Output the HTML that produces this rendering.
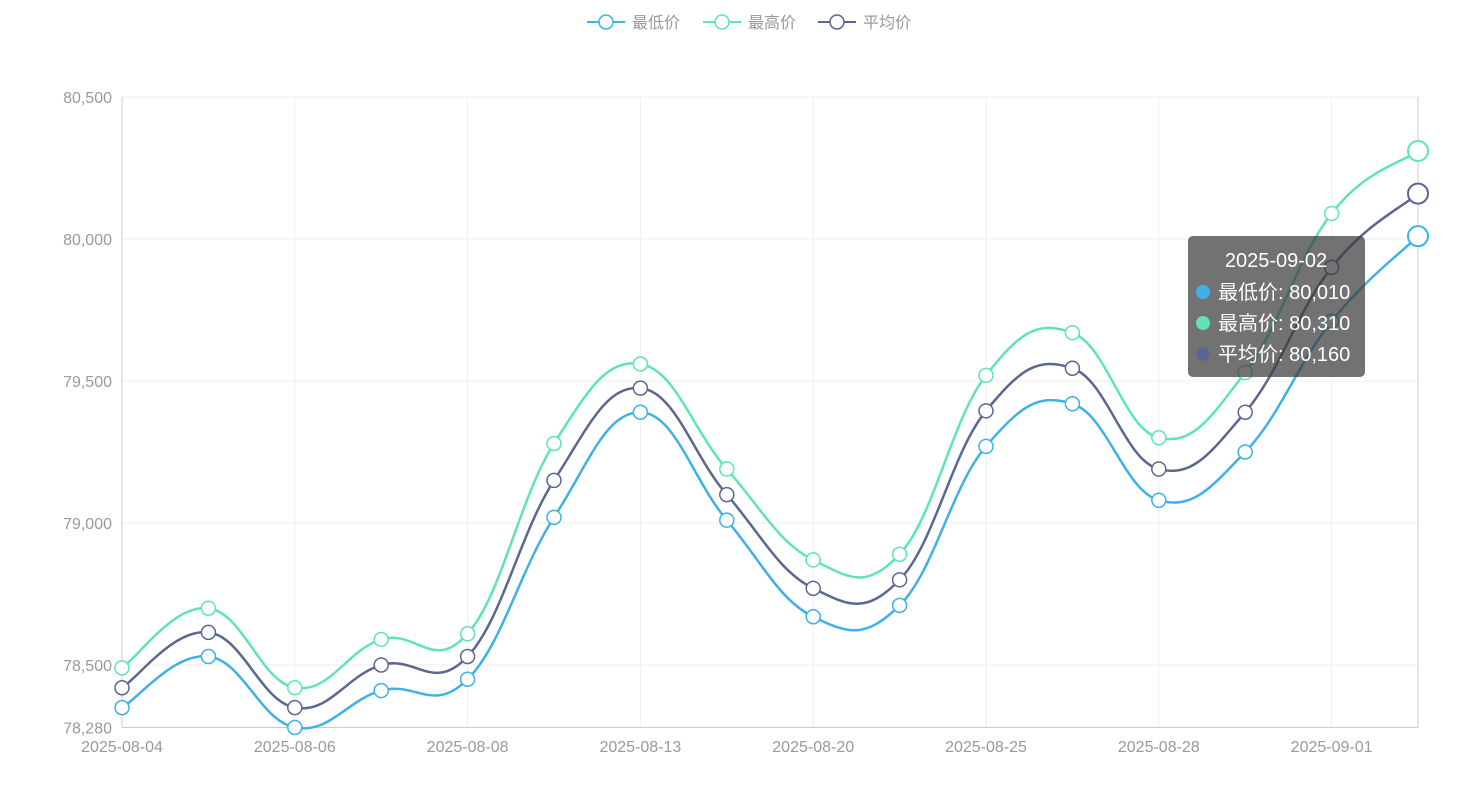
<!DOCTYPE html>
<html><head><meta charset="utf-8"><style>
body{margin:0;background:#fff;}
svg text{font-family:"Liberation Sans","Noto Sans CJK SC",sans-serif;}
</style></head><body>
<svg id="chart" width="1476" height="798" xmlns="http://www.w3.org/2000/svg">
<g id="grid"></g>
<g id="series"></g>
<g id="legend"></g>
<g id="tooltip" transform="translate(1188,236)">
<rect width="177" height="141" rx="5" fill="rgba(60,60,60,0.72)"/>
<text x="88" y="31" text-anchor="middle" fill="#fff" font-size="20">2025-09-02</text>
<circle cx="15" cy="56" r="7" fill="#3eb1e6"/><text x="30" y="63" fill="#fff" font-size="20">最低价: 80,010</text>
<circle cx="15" cy="87" r="7" fill="#5fe3b8"/><text x="30" y="94" fill="#fff" font-size="20">最高价: 80,310</text>
<circle cx="15" cy="118" r="7" fill="#5b6793"/><text x="30" y="125" fill="#fff" font-size="20">平均价: 80,160</text>
</g>
</svg>
<script>
const categories=["2025-08-04","2025-08-05","2025-08-06","2025-08-07","2025-08-08","2025-08-11","2025-08-13","2025-08-15","2025-08-20","2025-08-22","2025-08-25","2025-08-26","2025-08-28","2025-08-29","2025-09-01","2025-09-02"];
const lowValues=[78350,78530,78280,78410,78450,79020,79390,79010,78670,78710,79270,79420,79080,79250,79710,80010];
const highValues=[78490,78700,78420,78590,78610,79280,79560,79190,78870,78890,79520,79670,79300,79530,80090,80310];
const avgValues=[78420,78615,78350,78500,78530,79150,79475,79100,78770,78800,79395,79545,79190,79390,79900,80160];
const yTicks=[78280,78500,79000,79500,80000,80500];
const seriesNames=["最低价","最高价","平均价"];
const colors=["#3eb1e6","#5fe3b8","#5b6793"];
const NS="http://www.w3.org/2000/svg";
const x0=122,x1=1418,yTop=97,yBot=727.5,vMin=78280,vMax=80500;
const xs=i=>x0+(x1-x0)*i/(categories.length-1);
const ys=v=>yBot-(v-vMin)/(vMax-vMin)*(yBot-yTop);
function mk(tag,attrs,parent){const e=document.createElementNS(NS,tag);for(const k in attrs)e.setAttribute(k,attrs[k]);parent.appendChild(e);return e;}
const grid=document.getElementById('grid');
yTicks.forEach(v=>{
 const y=ys(v);
 if(v!==vMin){const l=mk('line',{x1:x0,x2:x1,y1:y,y2:y,stroke:'#eeeeee'},grid);}
 const t=mk('text',{x:112,y:y+6,'text-anchor':'end',fill:'#999','font-size':16},grid);t.textContent=v.toLocaleString('en-US');
 
 
});
categories.forEach((c,i)=>{
 if(i%2!==0&&i!==categories.length-1)return;
 const x=xs(i);
 if(i>0&&i<categories.length-1){const l=mk('line',{x1:x,x2:x,y1:yTop,y2:yBot,stroke:'#eeeeee'},grid);}
 if(i%2===0){const t=mk('text',{x:x,y:752,'text-anchor':'middle',fill:'#999','font-size':16},grid);t.textContent=c;
 
 }
});
const ax=mk('line',{x1:x0,x2:x1,y1:yBot,y2:yBot,stroke:'#ccc'},grid);
const ayl=mk('line',{x1:x0,x2:x0,y1:yTop,y2:yBot,stroke:'#ccc'},grid);
const ayr=mk('line',{x1:x1,x2:x1,y1:yTop,y2:yBot,stroke:'#ccc'},grid);
const sg=document.getElementById('series');
function path(vals){
 const p=vals.map((v,i)=>[xs(i),ys(v)]);let d=`M${p[0][0]},${p[0][1]}`;const s=0.2;
 for(let i=0;i<p.length-1;i++){
  const a=p[Math.max(0,i-1)],b=p[i],c=p[i+1],e=p[Math.min(p.length-1,i+2)];
  const c1=[b[0]+(c[0]-a[0])*s,b[1]+(c[1]-a[1])*s],c2=[c[0]-(e[0]-b[0])*s,c[1]-(e[1]-b[1])*s];
  d+=` C${c1[0]},${c1[1]} ${c2[0]},${c2[1]} ${c[0]},${c[1]}`;
 }return d;
}
[lowValues,highValues,avgValues].forEach((vals,k)=>{
 const g=mk('g',{},sg);
 
 
 const pl=mk('path',{d:path(vals),fill:'none',stroke:colors[k],'stroke-width':2.5},g);
 
 
 vals.forEach((v,i)=>{
  const last=i===vals.length-1;
  const c=mk('circle',{cx:xs(i),cy:ys(v),r:last?10:7,fill:'#fff',stroke:colors[k],'stroke-width':last?2:1.5},g);
  
  
 });
});
const lg=document.getElementById('legend');
const lx=[587,703,818];
seriesNames.forEach((n,k)=>{
 const g=mk('g',{},lg);
 
 
 mk('line',{x1:lx[k],x2:lx[k]+38,y1:22,y2:22,stroke:colors[k],'stroke-width':2},g);
 mk('circle',{cx:lx[k]+19,cy:22,r:7,fill:'#fff',stroke:colors[k],'stroke-width':1.5},g);
 const t=mk('text',{x:lx[k]+45,y:28,fill:'#999','font-size':16},g);t.textContent=n;
});
</script>
</body></html>
